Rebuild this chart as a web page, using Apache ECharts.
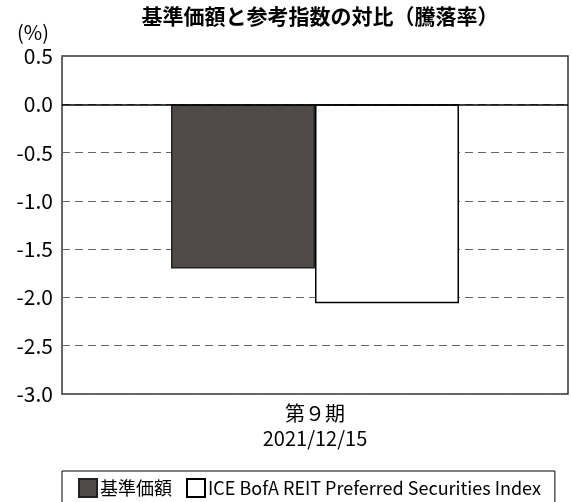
<!DOCTYPE html>
<html>
<head>
<meta charset="utf-8">
<script src="https://cdn.jsdelivr.net/npm/echarts@6/dist/echarts.min.js"></script>
<style>
  html, body { margin: 0; padding: 0; background: #fff; }
  #main { width: 572px; height: 502px; }
</style>
</head>
<body>
<div id="main"></div>
<script>
// データ
var categories = ['第９期\n2021/12/15'];
var fundValues = [-1.70];
var indexValues = [-2.06];
var seriesNames = ['基準価額', 'ICE BofA REIT Preferred Securities Index'];

var font = '"Noto Sans CJK JP", "Noto Sans", sans-serif';
var myChart = echarts.init(document.getElementById('main'));

myChart.setOption({
  animation: false,
  title: {
    text: '基準価額と参考指数の対比（騰落率）',
    left: 315,
    textAlign: 'center',
    top: 1,
    textStyle: { fontFamily: font, fontSize: 21, fontWeight: 'bold', color: '#000' }
  },
  legend: {
    data: seriesNames,
    left: 62,
    top: 471,
    padding: [7, 14, 12, 16],
    borderColor: '#000',
    borderWidth: 1,
    itemWidth: 18,
    itemHeight: 18,
    itemGap: 14,
    icon: 'rect',
    textStyle: { fontFamily: font, fontSize: 18, color: '#000', padding: [0, 0, 0, -2] }
  },
  grid: {
    left: 62,
    right: 4,
    top: 56,
    bottom: 108,
    show: true,
    borderColor: '#333',
    borderWidth: 1.5
  },
  xAxis: {
    type: 'category',
    data: categories,
    axisLine: { show: false },
    axisTick: { show: false },
    axisLabel: { fontFamily: font, fontSize: 20, color: '#000', lineHeight: 25, margin: 7 }
  },
  yAxis: {
    type: 'value',
    min: -3,
    max: 0.5,
    interval: 0.5,
    name: '(%)',
    nameLocation: 'end',
    nameGap: 14,
    nameTextStyle: { fontFamily: font, fontSize: 20, color: '#000', align: 'right', padding: [0, 13, 0, 0] },
    axisLine: { show: false },
    axisTick: { show: false },
    axisLabel: {
      fontFamily: font, fontSize: 21, color: '#000', margin: 9,
      formatter: function (v) { return v.toFixed(1); }
    },
    splitLine: { lineStyle: { color: '#666', type: [8, 5], width: 1.2 } }
  },
  series: [
    {
      name: seriesNames[0],
      type: 'bar',
      data: fundValues,
      barWidth: 144,
      barGap: '0%',
      itemStyle: { color: '#4f4a48', borderColor: '#222', borderWidth: 1.5 },
      markLine: {
        silent: true,
        symbol: 'none',
        label: { show: false },
        lineStyle: { color: '#000', type: 'solid', width: 1.5 },
        data: [{ yAxis: 0 }]
      }
    },
    {
      name: seriesNames[1],
      type: 'bar',
      data: indexValues,
      barWidth: 144,
      itemStyle: { color: '#fff', borderColor: '#000', borderWidth: 1.5 }
    }
  ]
});
</script>
</body>
</html>
